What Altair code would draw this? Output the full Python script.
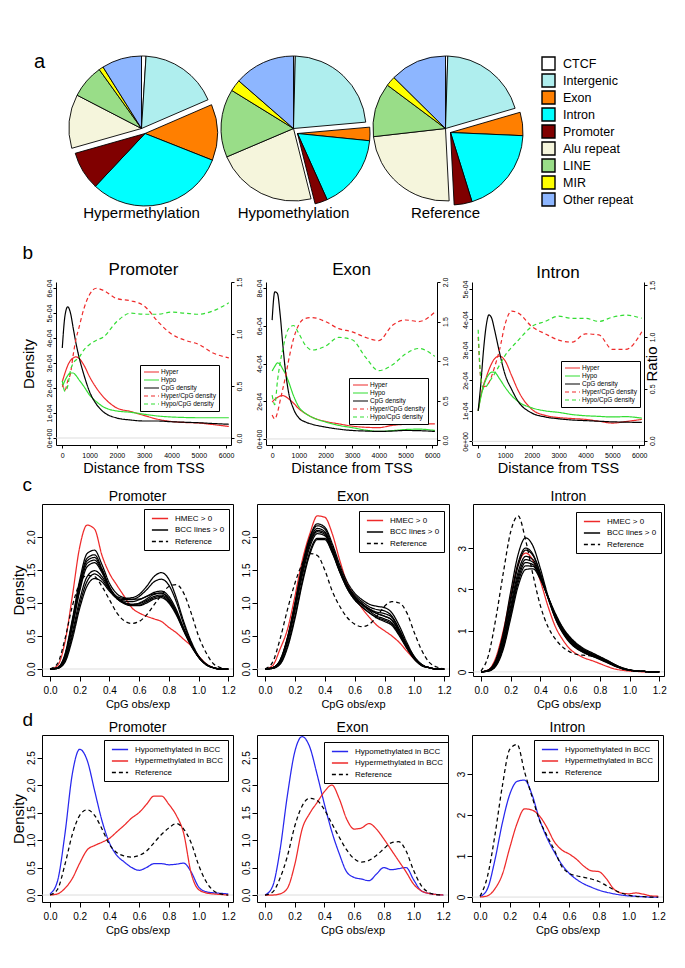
import altair as alt
import pandas as pd

FONT = "Liberation Sans"

# ---------------- panel a : genomic distribution (% of CpGs) ----------------
CATEGORIES = ["CTCF", "Intergenic", "Exon", "Intron", "Promoter", "Alu repeat", "LINE", "MIR", "Other repeat"]
CAT_COLORS = ["#FFFFFF", "#AFEEEE", "#FF7F00", "#00FFFF", "#800000", "#F5F5DC", "#99DD88", "#FFFF00", "#8DB6FF"]
GENIC = ["Exon", "Intron", "Promoter"]
HYPER_PCT = [1.0, 17.5, 12.5, 31.0, 8.6, 12.0, 7.5, 1.0, 8.9]
HYPO_PCT = [0.4, 23.2, 3.0, 16.7, 2.8, 22.5, 15.2, 2.6, 13.6]
REF_PCT = [0.5, 20.0, 5.2, 19.5, 4.0, 24.0, 12.0, 2.2, 12.6]

# ---------------- panel b : density vs distance from TSS ----------------
B_X = [0, 100, 200, 300, 400, 500, 600, 800, 1000, 1250, 1500, 2000, 2500, 3000, 3500, 4000, 4500, 5000, 5500, 6100]
B_SERIES = ["Hyper", "Hypo", "CpG density", "Hyper/CpG density", "Hypo/CpG density"]
# densities in units of 1e-04
B_PROM_HYPER = [2.25, 2.6, 2.9, 3.1, 3.2, 3.25, 3.2, 2.9, 2.45, 2.0, 1.65, 1.2, 1.06, 0.9, 0.75, 0.66, 0.62, 0.6, 0.54, 0.46]
B_PROM_HYPO = [2.05, 2.3, 2.5, 2.6, 2.6, 2.5, 2.35, 2.05, 1.72, 1.45, 1.25, 1.08, 1.03, 0.95, 0.88, 0.84, 0.82, 0.81, 0.81, 0.81]
B_PROM_CPG = [3.6, 4.9, 5.25, 5.0, 4.4, 3.8, 3.3, 2.5, 1.85, 1.35, 1.05, 0.8, 0.72, 0.68, 0.68, 0.65, 0.63, 0.61, 0.58, 0.55]
B_PROM_HYPER_R = [0.52, 0.46, 0.55, 0.62, 0.8, 0.95, 1.05, 1.25, 1.38, 1.44, 1.42, 1.34, 1.32, 1.27, 1.12, 1.0, 0.94, 0.9, 0.82, 0.77]
B_PROM_HYPO_R = [0.55, 0.45, 0.5, 0.65, 0.72, 0.75, 0.77, 0.85, 0.9, 0.94, 0.97, 1.12, 1.2, 1.19, 1.19, 1.21, 1.2, 1.19, 1.22, 1.3]

B_EXON_HYPER = [1.95, 2.1, 2.2, 2.28, 2.3, 2.25, 2.15, 1.9, 1.6, 1.35, 1.15, 0.93, 0.8, 0.68, 0.62, 0.6, 0.72, 0.78, 0.8, 0.8]
B_EXON_HYPO = [3.6, 3.85, 4.03, 3.95, 3.7, 3.45, 3.1, 2.3, 1.7, 1.35, 1.15, 0.9, 0.72, 0.6, 0.47, 0.4, 0.44, 0.5, 0.52, 0.45]
B_EXON_CPG = [6.3, 7.8, 7.7, 6.6, 5.0, 3.6, 2.6, 1.6, 1.12, 0.9, 0.78, 0.63, 0.52, 0.45, 0.42, 0.4, 0.42, 0.45, 0.44, 0.4]
B_EXON_HYPER_R = [0.32, 0.27, 0.35, 0.5, 0.65, 0.8, 0.98, 1.28, 1.46, 1.54, 1.55, 1.5, 1.41, 1.37, 1.3, 1.26, 1.45, 1.52, 1.5, 1.62]
B_EXON_HYPO_R = [0.57, 0.45, 0.75, 0.98, 1.15, 1.3, 1.4, 1.45, 1.35, 1.2, 1.14, 1.19, 1.3, 1.27, 1.05, 0.88, 0.95, 1.09, 1.16, 1.06]

B_INTR_HYPER = [1.0, 1.5, 1.85, 2.1, 2.35, 2.55, 2.7, 2.8, 2.65, 2.15, 1.65, 1.05, 0.85, 0.78, 0.75, 0.72, 0.66, 0.6, 0.65, 0.72]
B_INTR_HYPO = [1.0, 1.45, 1.8, 2.05, 2.2, 2.27, 2.27, 2.05, 1.78, 1.5, 1.3, 1.1, 1.0, 0.95, 0.88, 0.84, 0.82, 0.8, 0.81, 0.76]
B_INTR_CPG = [1.0, 1.9, 3.0, 3.8, 4.15, 4.05, 3.7, 2.9, 2.2, 1.7, 1.3, 0.93, 0.8, 0.74, 0.7, 0.68, 0.66, 0.64, 0.63, 0.62]
B_INTR_HYPER_R = [1.0, 0.6, 0.52, 0.53, 0.56, 0.62, 0.7, 0.88, 1.12, 1.25, 1.23, 1.1, 1.03, 0.97, 0.95, 1.03, 1.02, 0.88, 0.88, 1.05]
B_INTR_HYPO_R = [1.07, 0.6, 0.5, 0.52, 0.56, 0.6, 0.64, 0.73, 0.82, 0.9, 0.97, 1.1, 1.15, 1.2, 1.18, 1.18, 1.15, 1.19, 1.21, 1.18]

# ---------------- panels c and d : CpG obs/exp densities ----------------
C_X = [0.0, 0.05, 0.1, 0.15, 0.2, 0.25, 0.3, 0.35, 0.4, 0.45, 0.5, 0.55, 0.6, 0.65, 0.7, 0.75, 0.8, 0.85, 0.9, 0.95, 1.0, 1.05, 1.1, 1.15, 1.2]

C_PROM_HMEC = [0.0, 0.05, 0.4, 1.1, 1.85, 2.18, 2.12, 1.72, 1.45, 1.27, 1.1, 0.93, 0.85, 0.8, 0.76, 0.72, 0.63, 0.55, 0.45, 0.35, 0.2, 0.08, 0.02, 0.0, 0.0]
C_PROM_REF = [0.0, 0.08, 0.45, 0.95, 1.3, 1.42, 1.4, 1.25, 1.05, 0.85, 0.73, 0.69, 0.72, 0.82, 0.97, 1.12, 1.25, 1.28, 1.15, 0.85, 0.5, 0.25, 0.08, 0.02, 0.0]
C_PROM_BCC = [
    [0, 0.02, 0.22, 0.75, 1.35, 1.75, 1.8, 1.58, 1.3, 1.14, 1.08, 1.06, 1.06, 1.1, 1.14, 1.15, 1.05, 0.86, 0.6, 0.37, 0.19, 0.07, 0.02, 0, 0],
    [0, 0.02, 0.2, 0.72, 1.3, 1.68, 1.73, 1.52, 1.25, 1.08, 1.0, 0.97, 0.97, 1.02, 1.08, 1.1, 1.02, 0.84, 0.58, 0.36, 0.18, 0.07, 0.02, 0, 0],
    [0, 0.02, 0.2, 0.7, 1.27, 1.64, 1.69, 1.5, 1.24, 1.08, 1.01, 0.98, 0.99, 1.04, 1.1, 1.12, 1.04, 0.85, 0.6, 0.37, 0.19, 0.07, 0.02, 0, 0],
    [0, 0.01, 0.18, 0.66, 1.22, 1.6, 1.65, 1.48, 1.23, 1.07, 0.99, 0.96, 0.96, 1.0, 1.06, 1.08, 1.0, 0.82, 0.58, 0.35, 0.18, 0.07, 0.02, 0, 0],
    [0, 0.01, 0.17, 0.63, 1.18, 1.55, 1.61, 1.46, 1.22, 1.07, 1.0, 0.98, 1.0, 1.06, 1.13, 1.15, 1.07, 0.87, 0.61, 0.38, 0.19, 0.07, 0.02, 0, 0],
    [0, 0.01, 0.14, 0.55, 1.05, 1.4, 1.49, 1.4, 1.22, 1.1, 1.07, 1.08, 1.13, 1.25, 1.4, 1.46, 1.36, 1.08, 0.72, 0.42, 0.2, 0.08, 0.02, 0, 0],
    [0, 0.01, 0.12, 0.5, 0.98, 1.33, 1.44, 1.36, 1.2, 1.08, 1.05, 1.05, 1.1, 1.2, 1.32, 1.36, 1.27, 1.02, 0.68, 0.4, 0.19, 0.07, 0.02, 0, 0],
    [0, 0.01, 0.1, 0.45, 0.92, 1.26, 1.37, 1.32, 1.18, 1.07, 1.03, 1.02, 1.05, 1.1, 1.16, 1.18, 1.1, 0.9, 0.62, 0.37, 0.18, 0.07, 0.02, 0, 0],
]

C_EXON_HMEC = [0.0, 0.05, 0.3, 0.6, 1.1, 1.65, 2.05, 2.32, 2.3, 2.05, 1.65, 1.3, 1.1, 0.92, 0.78, 0.66, 0.58, 0.5, 0.4, 0.27, 0.15, 0.06, 0.02, 0.0, 0.0]
C_EXON_REF = [0.0, 0.1, 0.45, 0.9, 1.3, 1.6, 1.75, 1.72, 1.5, 1.18, 0.95, 0.78, 0.68, 0.64, 0.68, 0.8, 0.95, 1.02, 1.0, 0.85, 0.55, 0.28, 0.1, 0.03, 0.0]
C_EXON_BCC = [
    [0, 0.02, 0.13, 0.48, 1.0, 1.58, 2.0, 2.2, 2.15, 1.9, 1.58, 1.32, 1.15, 1.05, 0.98, 0.95, 0.93, 0.85, 0.65, 0.4, 0.19, 0.07, 0.02, 0, 0],
    [0, 0.02, 0.13, 0.47, 0.98, 1.56, 1.98, 2.17, 2.12, 1.86, 1.54, 1.28, 1.12, 1.02, 0.94, 0.9, 0.88, 0.8, 0.6, 0.37, 0.18, 0.06, 0.02, 0, 0],
    [0, 0.02, 0.12, 0.46, 0.97, 1.53, 1.95, 2.13, 2.08, 1.83, 1.52, 1.26, 1.1, 0.99, 0.9, 0.84, 0.8, 0.74, 0.56, 0.35, 0.17, 0.06, 0.02, 0, 0],
    [0, 0.02, 0.12, 0.45, 0.95, 1.5, 1.92, 2.1, 2.06, 1.8, 1.5, 1.24, 1.07, 0.97, 0.88, 0.8, 0.76, 0.7, 0.53, 0.33, 0.16, 0.06, 0.02, 0, 0],
    [0, 0.01, 0.11, 0.43, 0.92, 1.47, 1.89, 2.08, 2.04, 1.8, 1.5, 1.25, 1.09, 0.99, 0.91, 0.86, 0.84, 0.78, 0.58, 0.36, 0.17, 0.06, 0.02, 0, 0],
    [0, 0.01, 0.1, 0.4, 0.88, 1.42, 1.85, 2.05, 2.02, 1.79, 1.48, 1.22, 1.05, 0.94, 0.85, 0.77, 0.72, 0.66, 0.5, 0.31, 0.15, 0.05, 0.02, 0, 0],
    [0, 0.01, 0.08, 0.35, 0.8, 1.34, 1.78, 1.98, 1.98, 1.77, 1.48, 1.24, 1.08, 0.98, 0.9, 0.84, 0.8, 0.74, 0.56, 0.35, 0.17, 0.06, 0.02, 0, 0],
    [0, 0.01, 0.07, 0.32, 0.76, 1.3, 1.74, 1.96, 1.96, 1.76, 1.47, 1.22, 1.05, 0.94, 0.85, 0.78, 0.74, 0.68, 0.52, 0.32, 0.15, 0.05, 0.02, 0, 0],
]

C_INTR_HMEC = [0.0, 0.05, 0.35, 1.0, 1.85, 2.6, 2.88, 2.7, 2.2, 1.6, 1.1, 0.78, 0.55, 0.42, 0.33, 0.27, 0.2, 0.13, 0.07, 0.04, 0.02, 0.01, 0.0, 0.0, 0.0]
C_INTR_REF = [0.02, 0.4, 1.3, 2.4, 3.4, 3.78, 3.2, 2.35, 1.6, 1.1, 0.8, 0.6, 0.48, 0.42, 0.4, 0.38, 0.33, 0.25, 0.15, 0.08, 0.04, 0.02, 0.01, 0.0, 0.0]
C_INTR_BCC = [
    [0, 0.05, 0.3, 0.95, 1.95, 2.85, 3.25, 3.05, 2.5, 1.85, 1.3, 0.95, 0.7, 0.55, 0.45, 0.38, 0.3, 0.22, 0.14, 0.08, 0.04, 0.02, 0.01, 0, 0],
    [0, 0.04, 0.27, 0.88, 1.8, 2.65, 3.0, 2.85, 2.38, 1.8, 1.3, 0.95, 0.72, 0.56, 0.46, 0.38, 0.31, 0.23, 0.15, 0.08, 0.04, 0.02, 0.01, 0, 0],
    [0, 0.04, 0.25, 0.82, 1.72, 2.57, 2.95, 2.82, 2.38, 1.82, 1.33, 0.98, 0.74, 0.58, 0.47, 0.39, 0.32, 0.24, 0.15, 0.08, 0.04, 0.02, 0.01, 0, 0],
    [0, 0.03, 0.22, 0.75, 1.6, 2.42, 2.8, 2.72, 2.33, 1.82, 1.35, 1.0, 0.76, 0.6, 0.49, 0.41, 0.33, 0.25, 0.16, 0.09, 0.04, 0.02, 0.01, 0, 0],
    [0, 0.03, 0.2, 0.7, 1.52, 2.33, 2.72, 2.66, 2.3, 1.82, 1.37, 1.02, 0.78, 0.62, 0.5, 0.42, 0.34, 0.26, 0.17, 0.09, 0.05, 0.02, 0.01, 0, 0],
    [0, 0.03, 0.18, 0.65, 1.45, 2.25, 2.65, 2.6, 2.28, 1.82, 1.38, 1.04, 0.8, 0.63, 0.51, 0.42, 0.34, 0.26, 0.17, 0.09, 0.05, 0.02, 0.01, 0, 0],
    [0, 0.02, 0.16, 0.6, 1.38, 2.17, 2.57, 2.56, 2.26, 1.83, 1.4, 1.06, 0.82, 0.65, 0.53, 0.44, 0.36, 0.27, 0.18, 0.1, 0.05, 0.02, 0.01, 0, 0],
    [0, 0.02, 0.14, 0.55, 1.3, 2.08, 2.48, 2.5, 2.24, 1.83, 1.42, 1.08, 0.84, 0.67, 0.55, 0.46, 0.37, 0.28, 0.18, 0.1, 0.05, 0.02, 0.01, 0, 0],
]

D_PROM_HYPO = [0.02, 0.25, 1.1, 2.2, 2.65, 2.45, 1.9, 1.35, 0.95, 0.72, 0.6, 0.5, 0.45, 0.5, 0.57, 0.57, 0.55, 0.56, 0.58, 0.42, 0.15, 0.06, 0.04, 0.03, 0.02]
D_PROM_HYPER = [0.0, 0.02, 0.12, 0.3, 0.58, 0.82, 0.9, 0.96, 1.03, 1.15, 1.27, 1.4, 1.5, 1.65, 1.8, 1.8, 1.65, 1.45, 1.12, 0.4, 0.1, 0.04, 0.02, 0.01, 0.0]
D_PROM_REF = [0.0, 0.1, 0.55, 1.1, 1.45, 1.55, 1.45, 1.2, 0.92, 0.77, 0.71, 0.69, 0.72, 0.8, 0.95, 1.1, 1.22, 1.3, 1.2, 0.95, 0.55, 0.25, 0.08, 0.02, 0.0]

D_EXON_HYPO = [0.0, 0.15, 0.8, 1.8, 2.6, 2.88, 2.7, 2.2, 1.65, 1.15, 0.75, 0.42, 0.32, 0.29, 0.26, 0.38, 0.5, 0.46, 0.48, 0.5, 0.28, 0.08, 0.03, 0.01, 0.0]
D_EXON_HYPER = [0.0, 0.0, 0.02, 0.12, 0.55, 1.2, 1.48, 1.68, 1.88, 2.0, 1.75, 1.38, 1.2, 1.22, 1.3, 1.2, 1.02, 0.82, 0.62, 0.42, 0.2, 0.08, 0.03, 0.01, 0.0]
D_EXON_REF = [0.0, 0.05, 0.3, 0.7, 1.25, 1.62, 1.76, 1.72, 1.55, 1.3, 1.05, 0.82, 0.66, 0.6, 0.63, 0.72, 0.84, 0.95, 0.97, 0.8, 0.45, 0.18, 0.05, 0.01, 0.0]

D_INTR_HYPO = [0.01, 0.2, 0.9, 1.8, 2.5, 2.82, 2.85, 2.5, 1.9, 1.45, 1.1, 0.8, 0.58, 0.43, 0.32, 0.24, 0.17, 0.12, 0.08, 0.05, 0.03, 0.02, 0.01, 0.0, 0.0]
D_INTR_HYPER = [0.0, 0.03, 0.2, 0.55, 1.2, 1.8, 2.15, 2.12, 1.98, 1.7, 1.35, 1.15, 1.05, 0.92, 0.75, 0.64, 0.62, 0.45, 0.2, 0.1, 0.08, 0.1, 0.07, 0.03, 0.02]
D_INTR_REF = [0.02, 0.5, 1.5, 2.7, 3.6, 3.72, 3.05, 2.45, 1.88, 1.5, 1.15, 0.75, 0.58, 0.52, 0.48, 0.44, 0.38, 0.28, 0.18, 0.1, 0.05, 0.02, 0.01, 0.0, 0.0]

RED_B = "#EE2A2A"
GREEN_B = "#33DD33"
RED = "#EE2A2A"
BLUE = "#2828EE"
SOLID = [1, 0]
DASH = [4, 3]

PIE_LEGEND = alt.Legend(title=None, orient="right", offset=15, symbolType="M-1,-1H1V1H-1Z", symbolSize=169,
                        symbolStrokeColor="black", symbolStrokeWidth=1.4, symbolOpacity=1,
                        labelFontSize=12.5, labelFont=FONT, labelColor="black", rowPadding=-3.1,
                        labelOffset=7, padding=0)


def spacer(width, height, letter=None):
    """Empty leading cell that fixes where the first panel of a row starts."""
    txt = letter if letter else ""
    return alt.Chart(pd.DataFrame({"t": [txt]})).mark_text(
        fontSize=20, font=FONT, align="left", baseline="middle", color="black"
    ).encode(text="t:N", x=alt.value(23), y=alt.value(6)).properties(
        width=width, height=height, view=alt.ViewBackground(stroke="transparent"))


def pie(name, pct, shift):
    df = pd.DataFrame({
        "category": CATEGORIES,
        "pct": pct,
        "order": list(range(len(CATEGORIES))),
        "genic": [c in GENIC for c in CATEGORIES],
    })
    color = alt.Color("category:N", scale=alt.Scale(domain=CATEGORIES, range=CAT_COLORS), legend=PIE_LEGEND)
    base = (
        alt.Chart(df)
        .transform_joinaggregate(total="sum(pct)")
        .transform_window(cum="sum(pct)", sort=[alt.SortField("order", order="ascending")], frame=[None, 0])
        .transform_calculate(t0="2 * PI * (datum.cum - datum.pct) / datum.total",
                             t1="2 * PI * datum.cum / datum.total")
    )
    enc = dict(theta=alt.Theta("t0:Q", scale=None), theta2=alt.Theta2("t1"), color=color)
    upper = base.transform_filter("!datum.genic").mark_arc(stroke="black", strokeWidth=0.9).encode(**enc)
    lower = base.transform_filter("datum.genic").mark_arc(
        stroke="black", strokeWidth=0.9, xOffset=shift[0], yOffset=shift[1]).encode(**enc)
    label = alt.Chart(pd.DataFrame({"label": [name]})).mark_text(
        fontSize=15, font=FONT, baseline="middle", align="center", color="black"
    ).encode(text="label:N", x=alt.value(72.5), y=alt.value(157))
    return alt.layer(upper, lower, label).properties(width=145, height=145,
                                                     view=alt.ViewBackground(stroke="transparent"))


def b_panel(name, series, ratios, ldom, lticks, rdom, rticks, width, leg_xy, left_title, right_title):
    dens = pd.DataFrame([{"x": x, "series": s, "v": v}
                         for s, vals in series for x, v in zip(B_X, vals)])
    rat = pd.DataFrame([{"x": x, "series": s, "v": v}
                        for s, vals in ratios for x, v in zip(B_X, vals)])
    legend = alt.Legend(title=None, orient="none", legendX=leg_xy[0], legendY=leg_xy[1],
                        labelFontSize=6.5, labelFont=FONT, labelColor="black",
                        symbolType="M-2.5,0H2.5", symbolSize=36, symbolStrokeWidth=1.2,
                        symbolOffset=4.5, labelOffset=5.5, rowPadding=0, padding=3,
                        strokeColor="black", fillColor="white", labelLimit=300)
    color = alt.Color("series:N", scale=alt.Scale(domain=B_SERIES, range=[RED_B, GREEN_B, "black", RED_B, GREEN_B]),
                      legend=legend)
    dash = alt.StrokeDash("series:N", scale=alt.Scale(domain=B_SERIES, range=[SOLID, SOLID, SOLID, DASH, DASH]),
                          legend=legend)
    x = alt.X("x:Q", scale=alt.Scale(domain=[-230, 6180], nice=False, zero=False),
              axis=alt.Axis(values=[0, 1000, 2000, 3000, 4000, 5000, 6000], format="d", labelFontSize=7,
                            labelPadding=3, tickSize=3, labelAngle=0, labelOverlap=False,
                            title="Distance from TSS", titleFontSize=14.5, titlePadding=3))
    left_axis = alt.Axis(values=lticks, labelExpr="datum.value == 0 ? '0e+00' : datum.value + 'e-04'",
                         labelAngle=270, labelFontSize=7, labelPadding=1, tickSize=3, labelOverlap=False,
                         title=left_title, titleFontSize=15, titlePadding=9)
    right_axis = alt.Axis(orient="right", values=rticks, format=".1f", labelAngle=270, labelFontSize=7,
                          labelPadding=1, tickSize=3, labelOverlap=False,
                          title=right_title, titleFontSize=15, titleAngle=270, titlePadding=4)
    lscale = alt.Scale(domain=ldom, nice=False, zero=False)
    zero = alt.Chart(pd.DataFrame({"z": [0]})).mark_rule(color="#D4D4D4", strokeWidth=0.8).encode(
        y=alt.YDatum(0, scale=lscale, axis=left_axis))
    dl = alt.Chart(dens).mark_line(interpolate="monotone", strokeWidth=1.2, clip=True).encode(
        x=x, y=alt.Y("v:Q", scale=lscale, axis=left_axis),
        color=color, strokeDash=dash)
    rl = alt.Chart(rat).mark_line(interpolate="monotone", strokeWidth=1.2, clip=True).encode(
        x=x, y=alt.Y("v:Q", scale=alt.Scale(domain=rdom, nice=False, zero=False), axis=right_axis),
        color=color, strokeDash=dash)
    return alt.layer(alt.layer(zero, dl), rl).resolve_scale(y="independent").properties(
        width=width, height=163,
        title=alt.TitleParams(name, fontSize=17, offset=-2),
        view=alt.ViewBackground(stroke="transparent"),
    )


def cd_panel(name, lines, dom, colors, dashes, ydom, yticks, yfmt, width, height, leg_xy, y_title):
    df = pd.DataFrame([{"x": x, "grp": g, "lid": lid, "v": v}
                       for g, lid, vals in lines for x, v in zip(C_X, vals)])
    legend = alt.Legend(title=None, orient="none", legendX=leg_xy[0], legendY=leg_xy[1],
                        labelFontSize=8, labelFont=FONT, labelColor="black",
                        symbolType="M-1.8,0H1.8", symbolSize=81, symbolStrokeWidth=1.3,
                        symbolOffset=6.5, labelOffset=9.5, rowPadding=1.5, padding=4,
                        strokeColor="black", fillColor="white", labelLimit=300)
    x = alt.X("x:Q", scale=alt.Scale(domain=[-0.054, 1.232], nice=False, zero=False),
              axis=alt.Axis(values=[0.0, 0.2, 0.4, 0.6, 0.8, 1.0, 1.2], format=".1f", labelFontSize=10,
                            labelPadding=4, tickSize=5, domain=False, labelOverlap=False, labelAngle=0,
                            title="CpG obs/exp", titleFontSize=11, titlePadding=3))
    yscale = alt.Scale(domain=ydom, nice=False, zero=False)
    yaxis = alt.Axis(values=yticks, format=yfmt, labelAngle=270, labelFontSize=10, labelPadding=1,
                     tickSize=5, domain=False, labelOverlap=False,
                     title=y_title, titleFontSize=15, titlePadding=0)
    zero = alt.Chart(pd.DataFrame({"z": [0]})).mark_rule(color="#D4D4D4", strokeWidth=0.8).encode(
        y=alt.YDatum(0, scale=yscale, axis=yaxis))
    ln = alt.Chart(df).mark_line(interpolate="monotone", strokeWidth=1.25, clip=True).encode(
        x=x, y=alt.Y("v:Q", scale=yscale, axis=yaxis),
        color=alt.Color("grp:N", scale=alt.Scale(domain=dom, range=colors), legend=legend),
        strokeDash=alt.StrokeDash("grp:N", scale=alt.Scale(domain=dom, range=dashes), legend=legend),
        detail=alt.Detail("lid:N"),
    )
    return alt.layer(zero, ln).properties(width=width, height=height,
                                          title=alt.TitleParams(name, fontSize=14, offset=0))


# ---------------- assemble ----------------
row_a = alt.hconcat(
    spacer(51, 145, "a"),
    pie("Hypermethylation", HYPER_PCT, (3.5, 5)),
    pie("Hypomethylation", HYPO_PCT, (4, 5)),
    pie("Reference", REF_PCT, (5, 4)),
    spacing=7, bounds="flush",
).resolve_scale(color="shared")

row_b = alt.hconcat(
    spacer(10, 1),
    b_panel("Promoter",
            [("Hyper", B_PROM_HYPER), ("Hypo", B_PROM_HYPO), ("CpG density", B_PROM_CPG)],
            [("Hyper/CpG density", B_PROM_HYPER_R), ("Hypo/CpG density", B_PROM_HYPO_R)],
            [-0.28, 6.24], [0, 1, 2, 3, 4, 5, 6], [-0.067, 1.5], [0, 0.5, 1.0, 1.5], 175, (84, 83), "Density", None),
    b_panel("Exon",
            [("Hyper", B_EXON_HYPER), ("Hypo", B_EXON_HYPO), ("CpG density", B_EXON_CPG)],
            [("Hyper/CpG density", B_EXON_HYPER_R), ("Hypo/CpG density", B_EXON_HYPO_R)],
            [-0.32, 8.32], [0, 2, 4, 6, 8], [-0.06, 2.0], [0, 0.5, 1.0, 1.5, 2.0], 171, (83, 96), None, None),
    b_panel("Intron",
            [("Hyper", B_INTR_HYPER), ("Hypo", B_INTR_HYPO), ("CpG density", B_INTR_CPG)],
            [("Hyper/CpG density", B_INTR_HYPER_R), ("Hypo/CpG density", B_INTR_HYPO_R)],
            [-0.12, 5.23], [0, 1, 2, 3, 4, 5], [-0.042, 1.53], [0, 0.5, 1.0, 1.5], 172, (89, 79), None, "Ratio"),
    spacing=35, bounds="flush",
    title=alt.TitleParams("b", anchor="start", fontSize=19, offset=-2, dx=12),
).resolve_scale(color="independent", strokeDash="independent")

C_DOM = ["HMEC > 0", "BCC lines > 0", "Reference"]
C_COLORS = [RED, "black", "black"]
C_DASH = [SOLID, SOLID, DASH]


def c_lines(hmec, bcc, ref):
    out = [("HMEC > 0", "HMEC", hmec)]
    for i, vals in enumerate(bcc):
        out.append(("BCC lines > 0", "BCC%d" % (i + 1), vals))
    out.append(("Reference", "REF", ref))
    return out


row_c = alt.hconcat(
    spacer(7, 1),
    cd_panel("Promoter", c_lines(C_PROM_HMEC, C_PROM_BCC, C_PROM_REF), C_DOM, C_COLORS, C_DASH,
             [-0.106, 2.5], [0, 0.5, 1.0, 1.5, 2.0], ".1f", 191, 172, (102, 5), "Density"),
    cd_panel("Exon", c_lines(C_EXON_HMEC, C_EXON_BCC, C_EXON_REF), C_DOM, C_COLORS, C_DASH,
             [-0.106, 2.5], [0, 0.5, 1.0, 1.5, 2.0], ".1f", 192, 172, (102, 7), None),
    cd_panel("Intron", c_lines(C_INTR_HMEC, C_INTR_BCC, C_INTR_REF), C_DOM, C_COLORS, C_DASH,
             [-0.1, 4.07], [0, 1, 2, 3], "d", 191, 172, (103, 8), None),
    spacing=24, bounds="flush",
    title=alt.TitleParams("c", anchor="start", fontSize=19, offset=-5, dx=12),
).resolve_scale(color="independent", strokeDash="independent")

D_DOM = ["Hypomethylated in BCC", "Hypermethylated in BCC", "Reference"]
D_COLORS = [BLUE, RED, "black"]
D_DASH = [SOLID, SOLID, DASH]


def d_lines(hypo, hyper, ref):
    return [("Hypomethylated in BCC", "HYPO", hypo), ("Hypermethylated in BCC", "HYPER", hyper),
            ("Reference", "REF", ref)]


row_d = alt.hconcat(
    spacer(7, 1),
    cd_panel("Promoter", d_lines(D_PROM_HYPO, D_PROM_HYPER, D_PROM_REF), D_DOM, D_COLORS, D_DASH,
             [-0.127, 2.91], [0, 0.5, 1.0, 1.5, 2.0, 2.5], ".1f", 191, 167, (62, 5), "Density"),
    cd_panel("Exon", d_lines(D_EXON_HYPO, D_EXON_HYPER, D_EXON_REF), D_DOM, D_COLORS, D_DASH,
             [-0.127, 2.91], [0, 0.5, 1.0, 1.5, 2.0, 2.5], ".1f", 191, 167, (67, 7), None),
    cd_panel("Intron", d_lines(D_INTR_HYPO, D_INTR_HYPER, D_INTR_REF), D_DOM, D_COLORS, D_DASH,
             [-0.12, 3.95], [0, 1, 2, 3], "d", 191, 167, (62, 5), None),
    spacing=24, bounds="flush",
    title=alt.TitleParams("d", anchor="start", fontSize=19, offset=-9, dx=12),
).resolve_scale(color="independent", strokeDash="independent")

lower = alt.vconcat(row_b, row_c, row_d, spacing=0).resolve_scale(
    color="independent", strokeDash="independent")

chart = (
    alt.vconcat(row_a, lower, spacing=21)
    .resolve_scale(color="independent", strokeDash="independent")
    .properties(padding={"left": 2, "top": 43, "right": 2, "bottom": 2})
    .configure(font=FONT)
    .configure_view(stroke="black", strokeWidth=1)
    .configure_axis(labelFont=FONT, titleFont=FONT, labelColor="black", titleColor="black",
                    tickColor="black", domainColor="black", titleFontWeight="normal", grid=False)
    .configure_title(font=FONT, fontWeight="normal", color="black")
    .configure_legend(labelFont=FONT, labelColor="black")
)

chart.save("out.html", embed_options={"renderer": "svg", "actions": False})
